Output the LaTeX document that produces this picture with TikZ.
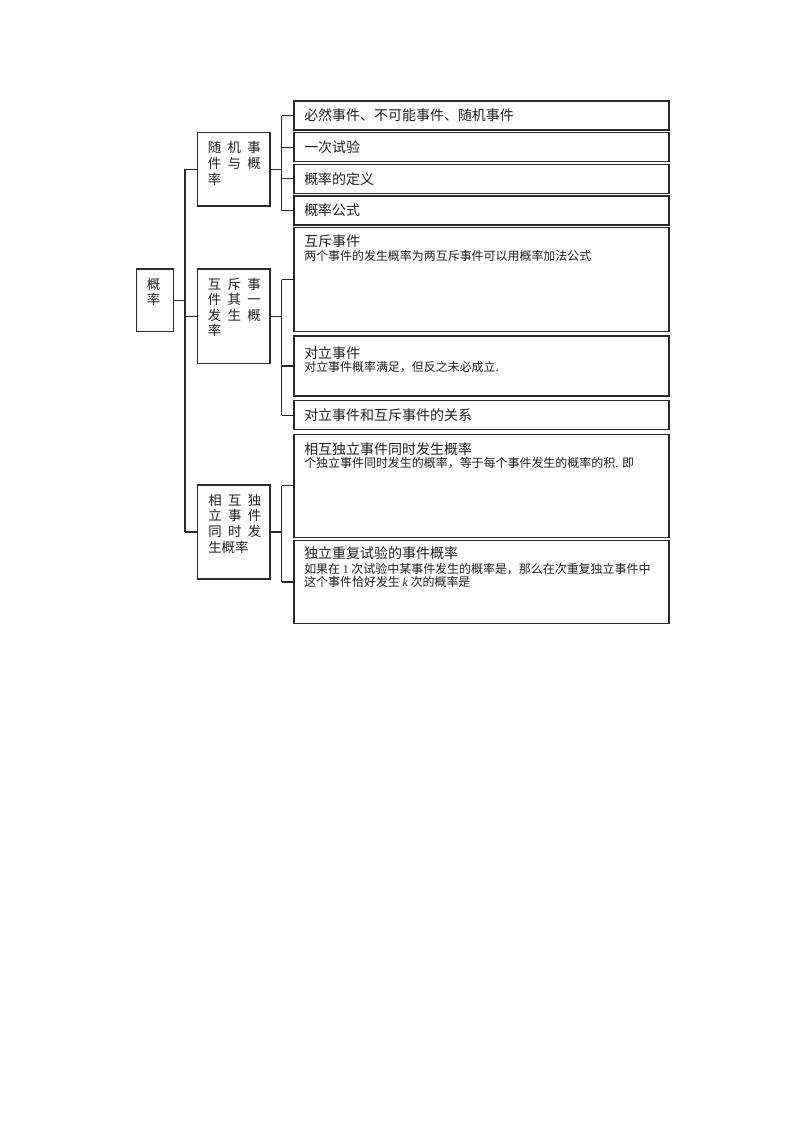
\documentclass[tikz,border=0pt]{standalone}
\usepackage{fontspec}
\setmainfont{Noto Sans CJK SC}
\newfontfamily\latinf{Liberation Serif}
\usetikzlibrary{calc,fit}
\definecolor{linec}{RGB}{40,40,40}
\definecolor{txtc}{RGB}{30,30,30}
\newcommand\mygap{\hspace{4.7pt}}
\tikzset{
  box/.style={draw=linec, line width=0.9pt, rectangle, inner sep=0pt, outer sep=0pt},
  conn/.style={draw=linec, line width=0.9pt},
  ttl/.style={anchor=base west, inner sep=0pt, font=\fontsize{10.4}{12}\selectfont, text=txtc},
  sub/.style={anchor=base west, inner sep=0pt, font=\fontsize{8.9}{11}\selectfont, text=txtc},
  lv/.style={anchor=base west, inner sep=0pt, font=\fontsize{10}{12}\selectfont, text=txtc},
}
\begin{document}
\begin{tikzpicture}[x=0.7441pt, y=-0.7441pt]
\useasboundingbox[fill=white] (0,0) rectangle (800,1132);

% boxes
\node[box, fit={(136.7,269) (173.3,331.7)}] (root) {};
\node[box, fit={(197.3,132.7) (270,206)}] (la) {};
\node[box, fit={(197.3,269) (270,363.3)}] (lb) {};
\node[box, fit={(197.3,485) (270,579)}] (lc) {};

\node[box, fit={(294,101) (669,130)}] (ra) {};
\node[box, fit={(294,132.7) (669,161.7)}] (rb) {};
\node[box, fit={(294,164.3) (669,193.3)}] (rc) {};
\node[box, fit={(294,196) (669,225)}] (rd) {};
\node[box, fit={(294,227.5) (669,331.7)}] (re) {};
\node[box, fit={(294,336) (669,396)}] (rf) {};
\node[box, fit={(294,400.7) (669,429.5)}] (rg) {};
\node[box, fit={(294,434.3) (669,537.3)}] (rh) {};
\node[box, fit={(294,540.7) (669,623.3)}] (ri) {};

% connectors: root to level 2
\coordinate (j0) at ($(root.east)+(11.7,0)$);
\draw[conn] (root.east) -- (j0);
\draw[conn] (la.west -| j0) -- (lc.west -| j0);
\draw[conn] (la.west) -- (la.west -| j0);
\draw[conn] (lb.west) -- (lb.west -| j0);
\draw[conn] (lc.west) -- (lc.west -| j0);

% level 2 a
\coordinate (ja) at ($(la.east)+(11.7,0)$);
\draw[conn] (la.east) -- (ja);
\draw[conn] (ra.west -| ja) -- (rd.west -| ja);
\foreach \n in {ra,rb,rc,rd} \draw[conn] (\n.west) -- (\n.west -| ja);

% level 2 b
\coordinate (jb) at ($(lb.east)+(11.7,0)$);
\draw[conn] (lb.east) -- (jb);
\draw[conn] (re.west -| jb) -- (rg.west -| jb);
\foreach \n in {re,rf,rg} \draw[conn] (\n.west) -- (\n.west -| jb);

% level 2 c
\coordinate (jc) at ($(lc.east)+(11.7,0)$);
\draw[conn] (lc.east) -- (jc);
\draw[conn] (rh.west -| jc) -- (ri.west -| jc);
\foreach \n in {rh,ri} \draw[conn] (\n.west) -- (\n.west -| jc);

% root text
\node[lv] (root-1) at (146.7,289) {概};
\node[lv] (root-2) at (146.7,304.5) {率};

% level 2 texts
\node[lv] (la-1) at (207.7,152.1) {随\mygap 机\mygap 事};
\node[lv] (la-2) at (207.7,168.4) {件\mygap 与\mygap 概};
\node[lv] (la-3) at (207.7,184.8) {率};

\node[lv] (lb-1) at (207.7,289.1) {互\mygap 斥\mygap 事};
\node[lv] (lb-2) at (207.7,304.6) {件\mygap 其\mygap 一};
\node[lv] (lb-3) at (207.7,320.4) {发\mygap 生\mygap 概};
\node[lv] (lb-4) at (207.7,335.6) {率};

\node[lv] (lc-1) at (208,505.1) {相\mygap 互\mygap 独};
\node[lv] (lc-2) at (208,520.9) {立\mygap 事\mygap 件};
\node[lv] (lc-3) at (208,536.8) {同\mygap 时\mygap 发};
\node[lv] (lc-4) at (208,552.7) {生概率};

% right texts
\node[ttl] (ra-t) at (304,120.7) {必然事件、不可能事件、随机事件};
\node[ttl] (rb-t) at (304,152.4) {一次试验};
\node[ttl] (rc-t) at (304,184) {概率的定义};
\node[ttl] (rd-t) at (304,215.7) {概率公式};
\node[ttl] (re-t) at (304,246.9) {互斥事件};
\node[sub] (re-s) at (304,260.6) {两个事件的发生概率为两互斥事件可以用概率加法公式};
\node[ttl] (rf-t) at (304,358.2) {对立事件};
\node[sub] (rf-s) at (304,371.3) {对立事件概率满足，但反之未必成立.};
\node[ttl] (rg-t) at (304,420.2) {对立事件和互斥事件的关系};
\node[ttl] (rh-t) at (304,454.5) {相互独立事件同时发生概率};
\node[sub] (rh-s) at (304,467.3) {个独立事件同时发生的概率，等于每个事件发生的概率的积. 即};
\node[ttl] (ri-t) at (304,558.5) {独立重复试验的事件概率};
\node[sub] (ri-s1) at (304,573.6) {如果在 {\latinf 1} 次试验中某事件发生的概率是，那么在次重复独立事件中};
\node[sub] (ri-s2) at (304,586.9) {这个事件恰好发生 {\latinf\itshape k} 次的概率是};
\end{tikzpicture}
\end{document}
